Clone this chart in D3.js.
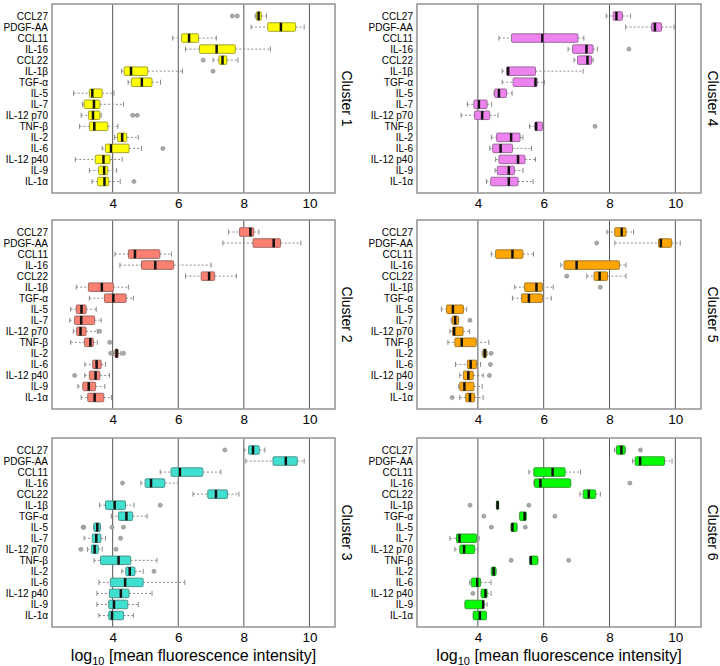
<!DOCTYPE html>
<html><head><meta charset="utf-8">
<script src="https://cdn.jsdelivr.net/npm/d3@7"></script>
<style>body{margin:0;background:#fff}text{font-family:Arial,"Liberation Sans",sans-serif;fill:#000}</style>
</head><body><svg id="c" width="720" height="666"></svg>
<script>
const cytokines = ["CCL27","PDGF-AA","CCL11","IL-16","CCL22","IL-1β","TGF-α","IL-5","IL-7","IL-12 p70","TNF-β","IL-2","IL-6","IL-12 p40","IL-9","IL-1α"];
const clusterNames = ["Cluster 1","Cluster 2","Cluster 3","Cluster 4","Cluster 5","Cluster 6"];
const clusterColors = ["#ffff00","#fa8072","#40e0d0","#ee82ee","#ffa500","#00ff00"];
const xTicks = [4,6,8,10];
const axisTitle = "[mean fluorescence intensity]";

// [lower whisker, Q1, median, Q3, upper whisker] per cytokine
const cluster1 = [[8.35,8.38,8.45,8.53,8.69],[8.22,8.73,9.13,9.58,9.84],[5.83,6.1,6.33,6.62,7.16],[6.22,6.65,7.17,7.74,8.81],[7.06,7.24,7.35,7.48,7.82],[4.27,4.35,4.56,5.07,6.13],[4.47,4.57,4.89,5.2,5.46],[2.81,3.29,3.38,3.68,4.04],[3.08,3.13,3.43,3.61,4.33],[3.04,3.26,3.4,3.61,3.65],[2.99,3.29,3.44,3.85,4.16],[4.06,4.15,4.29,4.43,4.78],[3.68,3.78,3.95,4.5,4.88],[2.86,3.47,3.72,3.92,4.29],[3.29,3.57,3.74,3.85,4.12],[3.37,3.54,3.75,3.88,4.23]];
const cluster1Out = [[7.65,7.8],[],[],[],[6.76],[7.06],[],[],[],[4.61,4.75],[],[],[5.53],[],[],[4.65]];
const cluster2 = [[7.53,7.87,8.2,8.3,8.46],[7.36,8.28,8.91,9.12,9.74],[4.07,4.48,4.68,5.44,5.79],[4.22,4.88,5.3,5.86,7.0],[6.22,6.7,6.94,7.11,7.77],[2.89,3.26,3.67,4.02,4.48],[3.29,3.75,4.02,4.41,4.63],[2.72,2.89,3.05,3.19,3.5],[2.69,2.84,3.04,3.45,3.65],[2.8,2.9,3.02,3.19,3.53],[2.72,3.14,3.32,3.41,3.53],[4.02,4.07,4.12,4.17,4.25],[3.15,3.39,3.51,3.65,3.78],[3.15,3.29,3.48,3.61,3.9],[2.94,3.09,3.27,3.48,3.76],[3.04,3.24,3.45,3.73,3.96]];
const cluster2Out = [[],[],[],[],[],[],[],[],[],[3.6],[3.91],[3.94,4.33],[],[2.84],[],[]];
const cluster3 = [[8.01,8.14,8.28,8.47,8.64],[8.06,8.89,9.28,9.63,9.84],[5.45,5.78,6.05,6.75,7.3],[4.86,4.99,5.17,5.59,6.0],[6.45,6.9,7.15,7.5,7.85],[3.6,3.78,4.06,4.39,4.65],[3.96,4.18,4.42,4.61,5.05],[3.42,3.43,3.53,3.62,3.63],[3.13,3.38,3.5,3.64,3.78],[3.23,3.35,3.45,3.56,3.68],[3.43,3.63,4.18,4.55,5.35],[4.28,4.4,4.52,4.68,4.93],[3.58,3.93,4.38,4.93,6.2],[3.52,3.9,4.25,4.5,5.2],[3.52,3.88,4.04,4.46,4.78],[3.58,3.88,3.98,4.33,4.63]];
const cluster3Out = [[7.42],[],[],[4.3],[],[5.45],[],[3.1,3.12,3.98,4.33],[4.24],[3.03,4.1],[],[5.26],[],[],[],[]];
const cluster4 = [[7.9,8.11,8.21,8.39,8.64],[8.49,9.28,9.38,9.58,9.96],[4.64,5.02,5.96,7.04,7.22],[6.74,6.88,7.3,7.5,7.63],[6.92,7.03,7.33,7.45,7.5],[4.74,4.87,4.92,5.75,7.2],[4.74,5.07,5.75,5.8,6.02],[4.49,4.51,4.64,4.87,5.04],[3.68,3.88,4.03,4.28,4.42],[3.49,3.9,4.13,4.36,4.61],[5.57,5.73,5.77,5.96,5.96],[4.41,4.57,5.01,5.28,5.37],[4.36,4.45,4.69,5.05,5.63],[4.54,4.64,5.22,5.43,5.75],[4.52,4.59,4.94,5.11,5.37],[4.26,4.39,4.94,5.22,5.68]];
const cluster4Out = [[],[],[],[8.59],[],[],[],[],[],[],[7.56],[],[],[],[],[]];
const cluster5 = [[7.92,8.16,8.37,8.5,8.73],[8.16,9.49,9.56,9.89,10.15],[4.41,4.54,5.05,5.37,5.69],[6.52,6.62,7.0,8.3,8.5],[7.31,7.53,7.7,7.94,8.5],[5.12,5.42,5.78,5.96,6.29],[5.05,5.33,5.55,5.96,6.23],[2.89,3.05,3.24,3.56,3.66],[3.19,3.22,3.31,3.41,3.42],[3.15,3.23,3.28,3.55,3.75],[3.09,3.3,3.51,3.95,4.33],[4.13,4.16,4.21,4.26,4.28],[3.32,3.68,3.78,3.96,4.08],[3.45,3.56,3.71,3.86,4.16],[3.42,3.45,3.59,3.88,4.13],[3.45,3.63,3.76,3.9,4.16]];
const cluster5Out = [[],[7.61],[],[],[6.7],[7.72],[],[],[3.76],[],[],[4.4],[4.38],[4.35],[],[3.22]];
const cluster6 = [[8.15,8.21,8.36,8.47,8.49],[8.7,8.78,8.93,9.67,9.9],[5.55,5.7,6.27,6.65,7.12],[5.7,5.72,5.9,6.82,6.82],[7.1,7.2,7.37,7.58,7.72],[4.56,4.57,4.6,4.63,4.63],[5.27,5.27,5.42,5.47,5.47],[5.01,5.01,5.05,5.19,5.19],[3.15,3.35,3.44,3.96,4.04],[3.3,3.45,3.58,3.9,4.0],[5.58,5.58,5.61,5.82,5.82],[4.41,4.41,4.48,4.55,4.55],[3.75,3.8,3.98,4.08,4.4],[4.1,4.1,4.23,4.28,4.4],[3.61,3.61,4.16,4.18,4.28],[3.86,3.86,4.06,4.26,4.26]];
const cluster6Out = [[8.94],[],[],[8.62],[],[3.76,5.55],[4.18,6.34],[4.41,5.44],[],[],[5.01,6.76],[],[],[3.85],[],[]];

const clusterStats = [cluster1,cluster2,cluster3,cluster4,cluster5,cluster6];
const clusterOuts = [cluster1Out,cluster2Out,cluster3Out,cluster4Out,cluster5Out,cluster6Out];

const svg = d3.select("#c");
svg.append("rect").attr("width",720).attr("height",666).attr("fill","#fff");

const colX = [[52,335],[417,701]];
const rowY = [[4,193],[220,409],[438,627]];

clusterNames.forEach((name,i)=>{
  const col = Math.floor(i/3), row = i%3;
  const [x0,x1] = colX[col], [y0,y1] = rowY[row];
  const x = d3.scaleLinear().domain([2.15,10.78]).range([x0,x1]);
  const y = d3.scalePoint().domain(cytokines).range([y0+12,y1-11.5]);
  const g = svg.append("g");
  const fill = clusterColors[i];
  const stroke = d3.interpolateRgb(fill,"#555")(0.55);

  g.selectAll("line.grid").data(xTicks).join("line").attr("class","grid")
    .attr("x1",d=>x(d)).attr("x2",d=>x(d)).attr("y1",y0).attr("y2",y1)
    .attr("stroke","#555").attr("stroke-width",1);

  const ax = g.append("g").attr("transform",`translate(0,${y1})`)
    .call(d3.axisBottom(x).tickValues(xTicks).tickSize(0).tickPadding(5).tickFormat(d3.format("d")));
  ax.select(".domain").remove();
  ax.selectAll("text").attr("font-size",13.5).attr("font-family","Arial, Liberation Sans, sans-serif");

  const ay = g.append("g").attr("transform",`translate(${x0},0)`)
    .call(d3.axisLeft(y).tickSize(0).tickPadding(4));
  ay.select(".domain").remove();
  ay.selectAll("text").attr("font-size",10).attr("font-family","Arial, Liberation Sans, sans-serif");

  const stats = clusterStats[i];
  const data = cytokines.map((c,k)=>({c,s:stats[k],o:clusterOuts[i][k]}));
  const bh = 8.5;
  const rows = g.selectAll("g.row").data(data).join("g").attr("class","row");
  rows.append("line").attr("x1",d=>x(d.s[0])).attr("x2",d=>x(d.s[1])).attr("y1",d=>y(d.c)).attr("y2",d=>y(d.c))
    .attr("stroke","#8a8a8a").attr("stroke-dasharray","2,2").attr("stroke-width",1);
  rows.append("line").attr("x1",d=>x(d.s[3])).attr("x2",d=>x(d.s[4])).attr("y1",d=>y(d.c)).attr("y2",d=>y(d.c))
    .attr("stroke","#8a8a8a").attr("stroke-dasharray","2,2").attr("stroke-width",1);
  [0,4].forEach(j=>{
    rows.append("line").attr("x1",d=>x(d.s[j])).attr("x2",d=>x(d.s[j])).attr("y1",d=>y(d.c)-2.5).attr("y2",d=>y(d.c)+2.5)
      .attr("stroke","#8a8a8a").attr("stroke-width",1);
  });
  rows.append("rect").attr("x",d=>x(d.s[1])).attr("width",d=>Math.max(0.5,x(d.s[3])-x(d.s[1])))
    .attr("y",d=>y(d.c)-bh/2).attr("height",bh).attr("rx",1)
    .attr("fill",fill).attr("stroke",stroke).attr("stroke-width",1);
  rows.append("line").attr("x1",d=>x(d.s[2])).attr("x2",d=>x(d.s[2])).attr("y1",d=>y(d.c)-bh/2).attr("y2",d=>y(d.c)+bh/2)
    .attr("stroke","#111").attr("stroke-width",2.5);
  rows.selectAll("circle").data(d=>d.o.map(v=>({v,c:d.c}))).join("circle")
    .attr("cx",d=>x(d.v)).attr("cy",d=>y(d.c)).attr("r",2)
    .attr("fill","#aaa").attr("stroke","#8a8a8a").attr("stroke-width",0.7);

  g.append("rect").attr("x",x0).attr("y",y0).attr("width",x1-x0).attr("height",y1-y0)
    .attr("fill","none").attr("stroke","#999").attr("stroke-width",1.6);

  g.append("text").attr("transform",`translate(${x1+12},${(y0+y1)/2}) rotate(90)`)
    .attr("text-anchor","middle").attr("dominant-baseline","central").attr("font-size",14).text(name);

  if(row===2){
    const t = g.append("text").attr("x",(x0+x1)/2).attr("y",661).attr("text-anchor","middle").attr("font-size",16);
    t.append("tspan").text("log");
    t.append("tspan").attr("font-size",11).attr("dy",4).text("10");
    t.append("tspan").attr("dy",-4).text(" "+axisTitle);
  }
});
</script></body></html>
